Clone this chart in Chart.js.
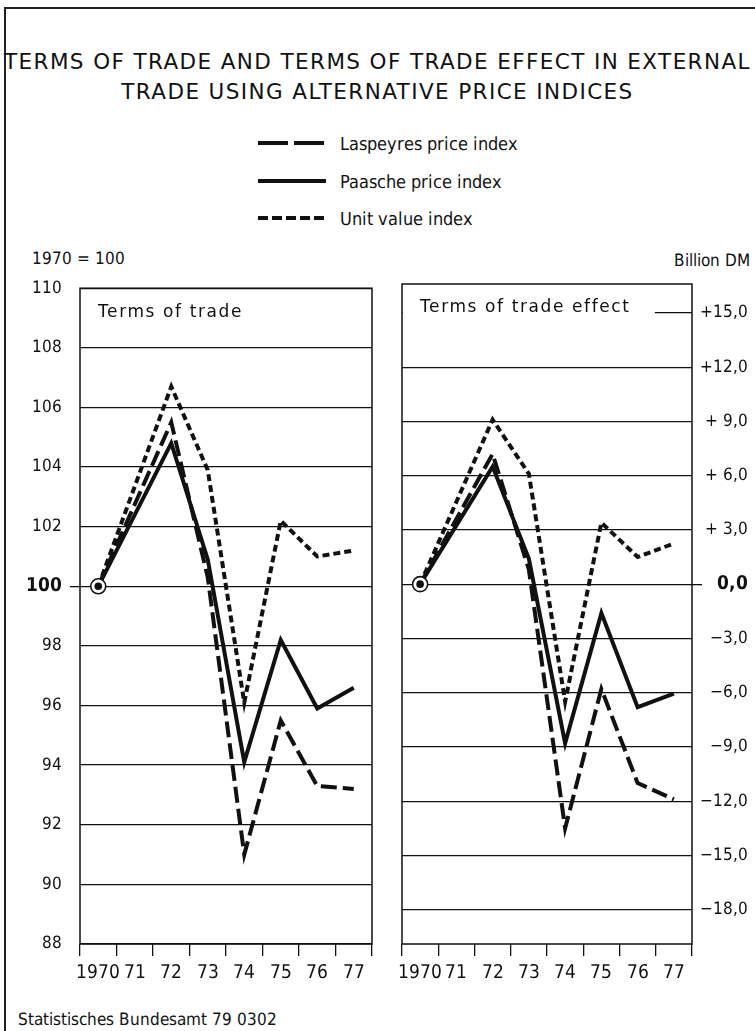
<!DOCTYPE html>
<html>
<head>
<meta charset="utf-8">
<script src="https://cdn.jsdelivr.net/npm/chart.js@4.4.1/dist/chart.umd.min.js"></script>
<style>
  /* condensed cut of the installed DejaVu family, taken from the local system */
  @font-face { font-family: "DVCond"; src: local("DejaVu Sans Condensed"), local("DejaVuSansCondensed"); font-weight: 400; }
  @font-face { font-family: "DVCond"; src: local("DejaVu Sans Condensed Bold"), local("DejaVuSansCondensed-Bold"); font-weight: 700; }

  body { margin: 0; background: #fff; width: 755px; height: 1031px; overflow: hidden; position: relative;
         font-family: "DVCond", "DejaVu Sans", sans-serif; font-stretch: condensed; color: #111; }
  .frame-top { position: absolute; left: 4px; top: 7px; width: 751px; border-top: 2px solid #222; }
  .frame-left { position: absolute; left: 4px; top: 7px; height: 1024px; border-left: 2px solid #222; }
  .title { position: absolute; left: 0; width: 755px; text-align: center; font-family: "DejaVu Sans", sans-serif;
           font-stretch: normal; font-size: 21.5px; letter-spacing: 1.4px; line-height: 24px; white-space: nowrap; }
  .leg { position: absolute; left: 258px; height: 24px; display: flex; align-items: center; font-size: 18px; }
  .leg svg { margin-right: 14px; }
  .note { position: absolute; font-size: 17px; line-height: 20px; }
  .foot { position: absolute; left: 18px; top: 1009px; font-size: 17px; }
  canvas { position: absolute; }
</style>
</head>
<body>
<div class="frame-top"></div>
<div class="frame-left"></div>

<div class="title" style="top:50px">TERMS OF TRADE AND TERMS OF TRADE EFFECT IN EXTERNAL</div>
<div class="title" style="top:80px">TRADE USING ALTERNATIVE PRICE INDICES</div>

<div class="leg" style="top:131px">
  <svg width="68" height="8"><line x1="0" y1="4" x2="68" y2="4" stroke="#111" stroke-width="4" stroke-dasharray="30 6"/></svg>
  Laspeyres price index
</div>
<div class="leg" style="top:169px">
  <svg width="68" height="8"><line x1="0" y1="4" x2="68" y2="4" stroke="#111" stroke-width="4"/></svg>
  Paasche price index
</div>
<div class="leg" style="top:206px">
  <svg width="68" height="8"><line x1="0" y1="4" x2="68" y2="4" stroke="#111" stroke-width="4" stroke-dasharray="10 4"/></svg>
  Unit value index
</div>

<div class="note" style="left:32px;top:248px">1970 = 100</div>
<div class="note" style="right:5px;top:250px">Billion DM</div>

<canvas id="tradeChart" width="385" height="730" style="left:0;top:270px"></canvas>
<canvas id="effectChart" width="370" height="730" style="left:385px;top:270px"></canvas>

<div class="foot">Statistisches Bundesamt 79 0302</div>

<script>
'use strict'
// years on the x axis (1971 has no point, line runs straight from 1970 to 1972)
const years = ['1970', '71', '72', '73', '74', '75', '76', '77'];

// left panel: terms of trade, 1970 = 100
const tradeLaspeyres = [100, null, 105.5, 100.3, 91.0, 95.5, 93.3, 93.2];
const tradePaasche   = [100, null, 104.8, 100.9, 94.1, 98.2, 95.9, 96.6];
const tradeUnitValue = [100, null, 106.7, 103.9, 96.1, 102.2, 101.0, 101.2];
const tradeTicks = [88, 90, 92, 94, 96, 98, 100, 102, 104, 106, 108, 110];

// right panel: terms of trade effect, billion DM
const effectLaspeyres = [0, null, 7.2, 0.8, -13.5, -5.8, -11.0, -11.9];
const effectPaasche   = [0, null, 6.5, 1.4, -8.8, -1.6, -6.8, -6.05];
const effectUnitValue = [0, null, 9.1, 6.1, -6.5, 3.4, 1.5, 2.25];
const effectTicks = [-18, -15, -12, -9, -6, -3, 0, 3, 6, 9, 12, 15];
const effectTickLabels = ['\u221218,0', '\u221215,0', '\u221212,0', '\u22129,0', '\u22126,0', '\u22123,0',
  '0,0', '+ 3,0', '+ 6,0', '+ 9,0', '+12,0', '+15,0'];

const INK = '#111';
const NARROW = '"DVCond", "DejaVu Sans", sans-serif';

// frame, panel caption and the 1970 origin marker
const panelDeco = {
  id: 'panelDeco',
  beforeDatasetsDraw(chart, args, opts) {
    const { ctx, chartArea: a } = chart;
    ctx.save();
    ctx.fillStyle = '#fff';
    ctx.fillRect(a.left + 0.8, a.top + 10, opts.boxWidth, 26); // hides the gridline behind the caption
    ctx.fillStyle = INK;
    ctx.font = '17px "DejaVu Sans", sans-serif';
    ctx.letterSpacing = '1.6px';
    ctx.textBaseline = 'middle';
    ctx.fillText(opts.caption, a.left + 18, a.top + 24);
    ctx.restore();
  },
  afterDatasetsDraw(chart) {
    const { ctx, chartArea: a, scales } = chart;
    ctx.save();
    ctx.strokeStyle = INK;
    ctx.lineWidth = 1.5;
    ctx.strokeRect(a.left, a.top, a.width, a.height);

    // ring + dot on the base year
    const base = chart.data.datasets[1].data[0];
    const px = scales.x.getPixelForValue(0);
    const py = scales.y.getPixelForValue(base);
    ctx.beginPath();
    ctx.arc(px, py, 7.5, 0, Math.PI * 2);
    ctx.fillStyle = '#fff';
    ctx.fill();
    ctx.lineWidth = 1.6;
    ctx.stroke();
    ctx.beginPath();
    ctx.arc(px, py, 3.8, 0, Math.PI * 2);
    ctx.fillStyle = INK;
    ctx.fill();
    ctx.restore();
  }
};

function lineSet(label, data, dash) {
  return {
    label: label,
    data: data,
    borderColor: INK,
    borderWidth: 4,
    borderDash: dash,
    borderJoinStyle: 'miter',
    borderCapStyle: 'butt',
    pointRadius: 0,
    spanGaps: true,
    fill: false,
    tension: 0
  };
}

function makePanel(canvasId, cfg) {
  const ctx = document.getElementById(canvasId).getContext('2d');
  return new Chart(ctx, {
    type: 'line',
    data: {
      labels: years,
      datasets: [
        lineSet('Laspeyres price index', cfg.laspeyres, [16, 6]),
        lineSet('Paasche price index', cfg.paasche, []),
        lineSet('Unit value index', cfg.unitValue, [7, 4])
      ]
    },
    options: {
      responsive: false,
      animation: false,
      layout: { padding: cfg.padding },
      plugins: {
        legend: { display: false },
        tooltip: { enabled: false },
        panelDeco: { caption: cfg.caption, boxWidth: cfg.boxWidth }
      },
      scales: {
        x: {
          type: 'category',
          offset: true,
          border: { display: false },
          grid: { offset: true, drawOnChartArea: false, drawTicks: true, tickLength: 12, color: INK, lineWidth: 1.3 },
          ticks: { color: INK, font: { family: NARROW, size: 19 }, padding: 6, autoSkip: false, maxRotation: 0, minRotation: 0 },
          afterFit: (scale) => { scale.height = 56; }
        },
        y: {
          position: cfg.side,
          min: cfg.min,
          max: cfg.max,
          border: { display: false },
          grid: {
            color: INK,
            lineWidth: 1.3,
            drawTicks: true,
            tickLength: 10,
            tickColor: (c) => (c.tick && c.tick.value === cfg.base ? INK : 'rgba(0,0,0,0)')
          },
          afterBuildTicks: (scale) => { scale.ticks = cfg.ticks.map(v => ({ value: v })); },
          ticks: {
            color: INK,
            padding: cfg.side === 'left' ? 8 : 2,
            crossAlign: cfg.side === 'left' ? 'near' : 'far',
            font: (c) => (c.tick && c.tick.value === cfg.base
              ? { family: NARROW, size: 19, weight: 'bold' }
              : { family: NARROW, size: 17 }),
            callback: cfg.label
          },
          afterFit: (scale) => { scale.width = cfg.axisWidth; }
        }
      }
    },
    plugins: [panelDeco]
  });
}

function drawAll() {
  makePanel('tradeChart', {
    laspeyres: tradeLaspeyres, paasche: tradePaasche, unitValue: tradeUnitValue,
    ticks: tradeTicks, min: 88, max: 110, base: 100, side: 'left', axisWidth: 80,
    padding: { top: 14, right: 13, bottom: 0, left: 0 },
    caption: 'Terms of trade', boxWidth: 200,
    label: (v) => String(v)
  });

  makePanel('effectChart', {
    laspeyres: effectLaspeyres, paasche: effectPaasche, unitValue: effectUnitValue,
    ticks: effectTicks, min: -19.9, max: 16.6, base: 0, side: 'right', axisWidth: 56,
    padding: { top: 14, right: 7, bottom: 0, left: 17 },
    caption: 'Terms of trade effect', boxWidth: 252,
    label: (v) => effectTickLabels[effectTicks.indexOf(v)]
  });
}

// wait for the local condensed faces, then draw
Promise.all([document.fonts.load('17px "DVCond"'), document.fonts.load('bold 19px "DVCond"')])
  .catch(() => null)
  .then(drawAll);
</script>
</body>
</html>
